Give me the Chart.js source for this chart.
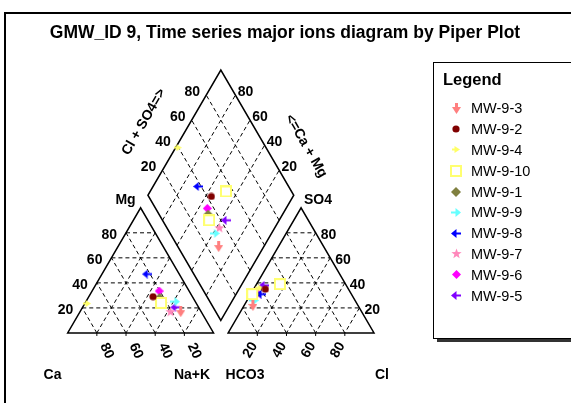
<!DOCTYPE html>
<html><head><meta charset="utf-8">
<script src="https://cdn.jsdelivr.net/npm/chart.js@4.4.0/dist/chart.umd.min.js"></script>
<style>html,body{margin:0;padding:0;background:#fff;overflow:hidden}</style>
</head><body><canvas id="c" width="571" height="403"></canvas>
<script>
const chartTitle = 'GMW_ID 9, Time series major ions diagram by Piper Plot';
const wells = ['MW-9-3','MW-9-2','MW-9-4','MW-9-10','MW-9-1','MW-9-9','MW-9-8','MW-9-7','MW-9-6','MW-9-5'];
const wellColors = ['#ff7f7f','#800000','#ffff66','#ffff70','#808040','#66ffff','#0000ff','#ff88bb','#ff00ff','#8000ff'];
// one entry per sample (MW-9-10 was sampled twice)
const sampleWell = ['MW-9-3','MW-9-2','MW-9-4','MW-9-10','MW-9-10','MW-9-1','MW-9-9','MW-9-8','MW-9-7','MW-9-6','MW-9-5'];
const caPct   = [14, 27, 75,  24, 24, 23, 14, 22, 21, 20.5, 16];
const mgPct   = [17, 29, 23.5,24, 24, 28, 25, 47, 17, 33.5, 20.5];
const nakPct  = [69, 44, 1.5, 52, 52, 49, 61, 31, 62, 46, 63.5];
const hco3Pct = [72, 57, 60.5,45, 68, 66.5,69.5,62, 64, 64.5, 56.5];
const clPct   = [6,  8,  3.5, 16, 1,  2.5, 4.5, 7,  5,  2.5,  5.5];
const so4Pct  = [22, 35, 36,  39, 31, 31,  26,  31, 31, 33,   38];
const tickVals = [20, 40, 60, 80];

// Piper geometry (plot units, triangle side = 100)
const H = 86.6;
const triL = {a:[0,0], b:[100,0], c:[50,H]};      // Ca, Na+K, Mg
const triR = {a:[110,0], b:[210,0], c:[160,H]};   // HCO3, Cl, SO4
const dB=[105,8.66], dL=[55,8.66+H], dR=[155,8.66+H], dT=[105,8.66+2*H];
function bary(t, fa, fb, fc){
  const s = fa+fb+fc;
  return [(t.a[0]*fa+t.b[0]*fb+t.c[0]*fc)/s, (t.a[1]*fa+t.b[1]*fb+t.c[1]*fc)/s];
}
function diamondPt(cam, cls){
  const a=cam/100, b=cls/100;
  return [dB[0]+a*(dL[0]-dB[0])+b*(dR[0]-dB[0]), dB[1]+a*(dL[1]-dB[1])+b*(dR[1]-dB[1])];
}

function mk(w,h,fn){const c=document.createElement('canvas');c.width=w;c.height=h;const g=c.getContext('2d');fn(g);return c;}
function poly(g,pts,col){g.fillStyle=col;g.beginPath();g.moveTo(pts[0][0],pts[0][1]);for(let i=1;i<pts.length;i++)g.lineTo(pts[i][0],pts[i][1]);g.closePath();g.fill();}
const leftArrow = col => mk(10,9,g=>{poly(g,[[0,4.5],[5.5,0],[5.5,9]],col);g.fillStyle=col;g.fillRect(5,3.5,5,2);});
const rightArrow = (col,w,h) => mk(w,h,g=>{poly(g,[[w,h/2],[w-5.5,0],[w-5.5,h]],col);g.fillStyle=col;g.fillRect(0,h/2-1,w-5,2);});
const markers = {
  'MW-9-3': mk(9,11,g=>{g.fillStyle='#ff7f7f';g.fillRect(3,0,3,6);poly(g,[[0,4],[9,4],[4.5,11]],'#ff7f7f');}),
  'MW-9-2': mk(8,8,g=>{g.fillStyle='#800000';g.beginPath();g.arc(4,4,3.6,0,Math.PI*2);g.fill();}),
  'MW-9-4': rightArrow('#ffff66',8,7),
  'MW-9-10': mk(12,12,g=>{g.fillStyle='#fff';g.fillRect(1,1,10,10);g.strokeStyle='#ffff70';g.lineWidth=2;g.strokeRect(1,1,10,10);}),
  'MW-9-1': mk(10,10,g=>poly(g,[[5,0],[10,5],[5,10],[0,5]],'#808040')),
  'MW-9-9': rightArrow('#66ffff',10,9),
  'MW-9-8': leftArrow('#0000ff'),
  'MW-9-7': mk(11,11,g=>{const p=[];for(let i=0;i<10;i++){const r=i%2?2.2:5.4,an=-Math.PI/2+i*Math.PI/5;p.push([5.5+r*Math.cos(an),5.8+r*Math.sin(an)]);}poly(g,p,'#ff88bb');}),
  'MW-9-6': mk(9,9,g=>poly(g,[[4.5,0],[9,4.5],[4.5,9],[0,4.5]],'#ff00ff')),
  'MW-9-5': leftArrow('#8000ff')
};

const datasets = wells.map((w,wi)=>{
  const pts=[];
  sampleWell.forEach((sw,i)=>{
    if(sw!==w) return;
    const p1=bary(triL, caPct[i], nakPct[i], mgPct[i]);
    const p2=bary(triR, hco3Pct[i], clPct[i], so4Pct[i]);
    const p3=diamondPt(caPct[i]+mgPct[i], clPct[i]+so4Pct[i]);
    pts.push({x:p1[0],y:p1[1]},{x:p3[0],y:p3[1]},{x:p2[0],y:p2[1]});
  });
  return {label:w,data:pts,pointStyle:markers[w],pointRadius:5,backgroundColor:wellColors[wi],borderColor:wellColors[wi],clip:false};
});

const piper = {
  id:'piper',
  beforeDatasetsDraw(chart){
    const g=chart.ctx, sx=chart.scales.x, sy=chart.scales.y;
    const X=u=>sx.getPixelForValue(u), Y=v=>sy.getPixelForValue(v);
    const P=p=>[X(p[0]),Y(p[1])];
    g.save();
    // outer frame
    g.strokeStyle='#000';g.lineWidth=2;g.strokeRect(5,13,700,600);
    // title
    g.fillStyle='#000';g.font='bold 17.5px "Liberation Sans", Arial, sans-serif';g.textAlign='center';g.textBaseline='alphabetic';
    g.fillText(chartTitle,285,37.5);
    const seg=(p,q)=>{g.beginPath();const a=P(p),b=P(q);g.moveTo(a[0],a[1]);g.lineTo(b[0],b[1]);g.stroke();};
    const lerp=(p,q,t)=>[p[0]+(q[0]-p[0])*t,p[1]+(q[1]-p[1])*t];
    // dashed grids
    g.lineWidth=1;g.setLineDash([4,3]);g.strokeStyle='#000';
    [triL,triR].forEach(t=>{
      const V=[t.a,t.b,t.c];
      tickVals.forEach(k=>{
        const f=k/100;
        for(let i=0;i<3;i++){
          const vi=V[i],vj=V[(i+1)%3],vl=V[(i+2)%3];
          seg(lerp(vj,vi,f),lerp(vl,vi,f));
        }
      });
    });
    tickVals.forEach(k=>{
      seg(diamondPt(k,0),diamondPt(k,100));
      seg(diamondPt(0,k),diamondPt(100,k));
    });
    g.setLineDash([]);
    // outlines
    g.lineWidth=1.5;
    const outline=pts=>{g.beginPath();pts.forEach((p,i)=>{const q=P(p);i?g.lineTo(q[0],q[1]):g.moveTo(q[0],q[1]);});g.closePath();g.stroke();};
    outline([triL.a,triL.b,triL.c]);outline([triR.a,triR.b,triR.c]);outline([dB,dR,dT,dL]);
    // base ticks
    g.lineWidth=1;
    tickVals.forEach(k=>{
      [[100-k,0],[110+k,0]].forEach(p=>{const q=P(p);g.beginPath();g.moveTo(q[0],q[1]);g.lineTo(q[0],q[1]+3);g.stroke();});
    });
    // labels
    const txt=(s,x,y,font,align,rot)=>{g.save();g.translate(x,y);if(rot)g.rotate(rot);g.font=font;g.textAlign=align||'center';g.textBaseline='middle';g.fillText(s,0,0);g.restore();};
    const bf='bold 14px "Liberation Sans", Arial, sans-serif';
    const deg=Math.PI/180;
    tickVals.forEach(k=>{
      // left triangle Mg (left edge)
      let q=P(lerp(triL.a,triL.c,k/100)); txt(String(k),q[0]-9,q[1]+2.5,bf,'right');
      // right triangle SO4 (right edge)
      q=P(lerp(triR.b,triR.c,k/100)); txt(String(k),q[0]+5,q[1]+2.5,bf,'left');
      // left triangle Ca along base
      q=P([100-k,0]); txt(String(k),q[0]+10,q[1]+18,bf,'center',65*deg);
      // right triangle Cl along base
      q=P([110+k,0]); txt(String(k),q[0]-7,q[1]+17,bf,'center',-60*deg);
      // diamond upper-left: Cl+SO4
      q=P(diamondPt(100,k)); txt(String(k),q[0]-14,q[1]-3,bf,'center');
      // diamond upper-right: Ca+Mg
      q=P(diamondPt(k,100)); txt(String(k),q[0]+10,q[1]-3,bf,'center');
    });
    txt('Cl + SO4=>',144,122,bf,'center',-60*deg);
    txt('<=Ca + Mg',306,146,bf,'center',60*deg);
    txt('Mg',125.5,200,bf);txt('SO4',318,200,bf);
    txt('Ca',52.5,375,bf);txt('Na+K',192,375,bf);txt('HCO3',245,375,bf);txt('Cl',382,375,bf);
    g.restore();
  },
  afterDraw(chart){
    const g=chart.ctx;g.save();
    g.fillStyle='#333';g.fillRect(437,339,200,3);
    g.fillStyle='#fff';g.fillRect(433,62,200,277);
    g.strokeStyle='#000';g.lineWidth=1;g.strokeRect(433.5,62.5,200,276);
    g.fillStyle='#000';g.font='bold 16.5px "Liberation Sans", Arial, sans-serif';g.textAlign='left';g.textBaseline='alphabetic';
    g.fillText('Legend',443,85);
    g.font='14.5px "Liberation Sans", Arial, sans-serif';g.textBaseline='middle';
    chart.data.datasets.forEach((ds,i)=>{
      const y=108.3+i*20.8, m=ds.pointStyle;
      g.drawImage(m,Math.round(456-m.width/2),Math.round(y-m.height/2));
      g.fillStyle='#000';g.fillText(ds.label,471,y+1);
    });
    g.restore();
  }
};

new Chart(document.getElementById('c'),{
  type:'scatter',
  data:{datasets},
  options:{
    responsive:false,animation:false,devicePixelRatio:1,
    layout:{padding:0},
    scales:{x:{type:'linear',display:false,min:-42.28,max:340.94},y:{type:'linear',display:false,min:-44.30,max:226.17}},
    plugins:{legend:{display:false},tooltip:{enabled:false},title:{display:false}}
  },
  plugins:[piper]
});
</script></body></html>
